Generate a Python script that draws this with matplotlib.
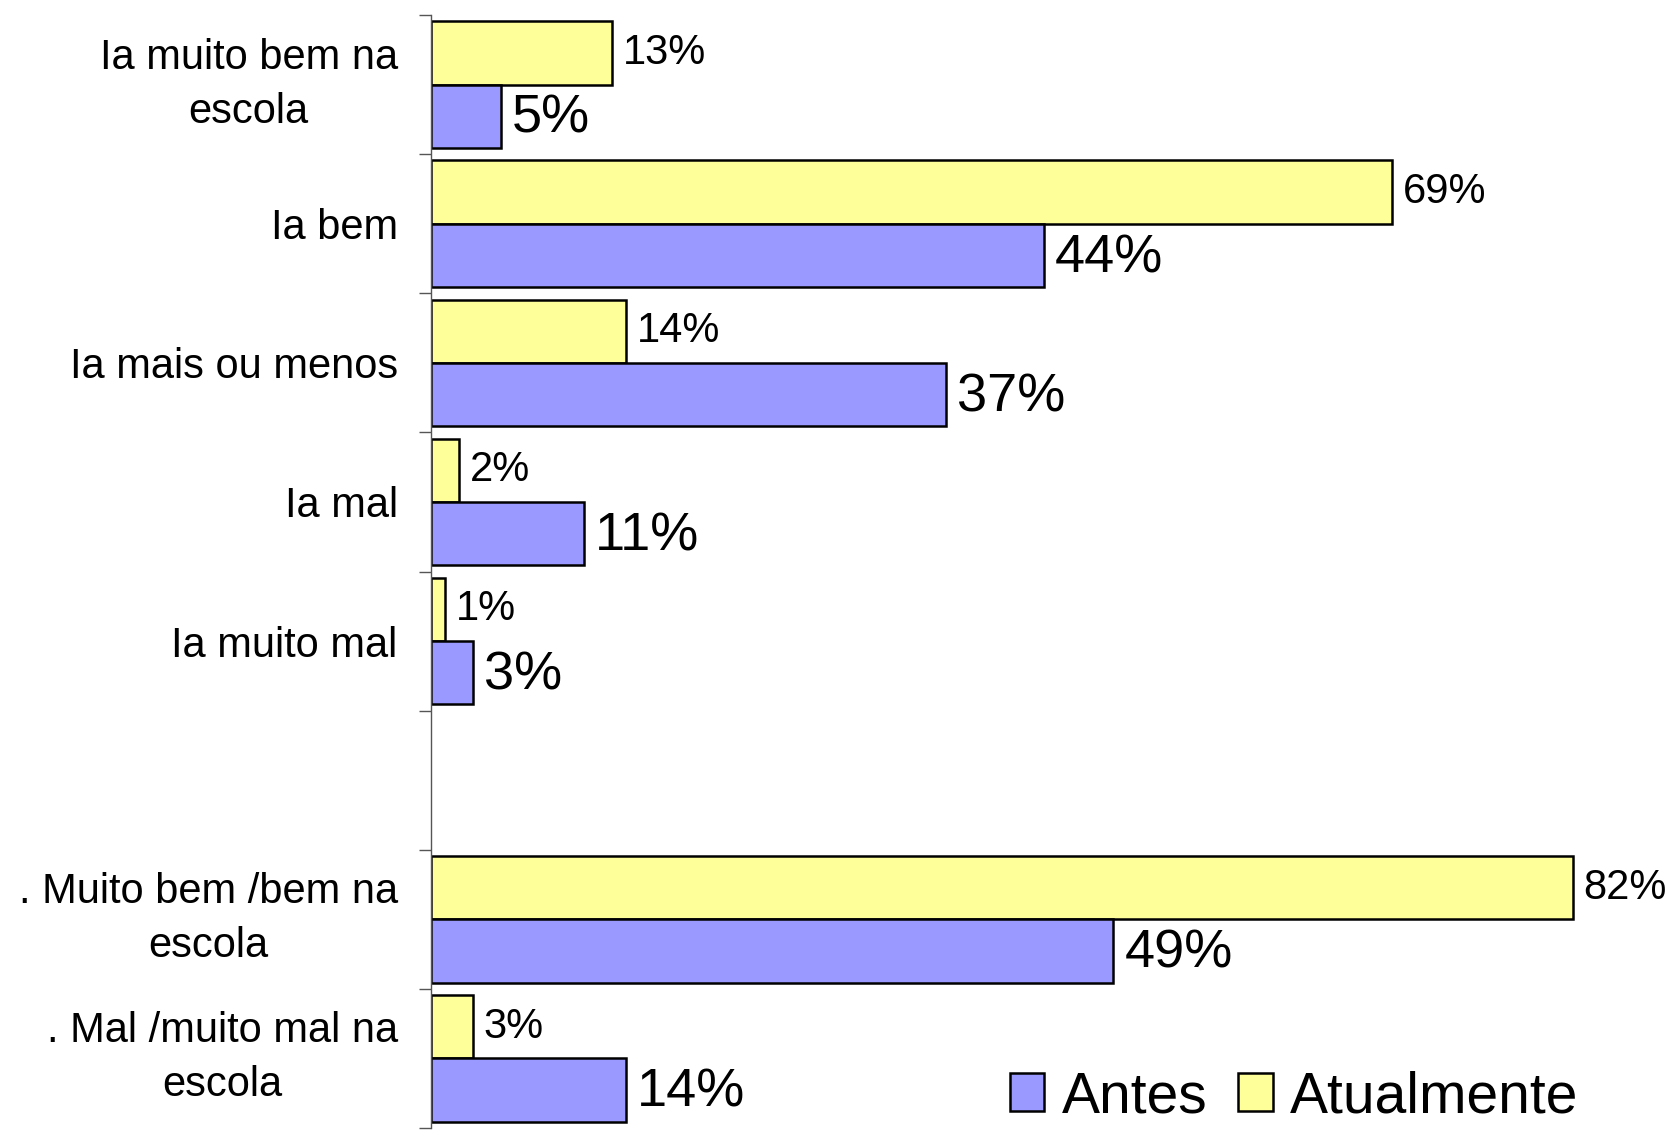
import matplotlib.pyplot as plt
import numpy as np
from matplotlib.patches import Patch

plt.rcParams['font.family'] = ['Liberation Sans', 'DejaVu Sans']

# categories (top to bottom), empty string = blank slot
categories = ["Ia muito bem na\nescola", "Ia bem", "Ia mais ou menos", "Ia mal",
              "Ia muito mal", "", ". Muito bem /bem na\nescola",
              ". Mal /muito mal na\nescola"]
antes = [5, 44, 37, 11, 3, None, 49, 14]
atualmente = [13, 69, 14, 2, 1, None, 82, 3]

blue = "#9999FF"
yellow = "#FFFF99"

fig = plt.figure(figsize=(16.77, 11.3), dpi=100)
ax = fig.add_axes([431 / 1677, 2 / 1130, 1 - 431 / 1677, 1113 / 1130])

n = len(categories)
ypos = np.arange(n)
h = 0.455

for i in range(n):
    if antes[i] is None:
        continue
    # yellow on top, blue below (y axis inverted)
    ax.barh(i - h / 2, atualmente[i], height=h, color=yellow,
            edgecolor="black", linewidth=1.8)
    ax.barh(i + h / 2, antes[i], height=h, color=blue,
            edgecolor="black", linewidth=1.8)
    ax.text(atualmente[i] + 0.8, i - h / 2, f"{atualmente[i]}%",
            va="center", ha="left", fontsize=30)
    ax.text(antes[i] + 0.8, i + h / 2 + 0.02, f"{antes[i]}%",
            va="center", ha="left", fontsize=39)

ax.set_xlim(0, 89.5)
ax.set_ylim(n - 0.5, -0.5)

# boundary ticks, labels at centers
ax.set_yticks(np.arange(n + 1) - 0.5)
ax.set_yticklabels([])
ax.tick_params(axis="y", which="major", length=9, width=1, color="#555555")
ax.set_yticks(ypos, minor=True)
ax.set_yticklabels(categories, minor=True, fontsize=30,
                   multialignment="center", linespacing=1.45)
for lbl in ax.get_yticklabels(minor=True):
    if "\n" in lbl.get_text():
        lbl.set_va("center")
ax.tick_params(axis="y", which="minor", length=0, pad=24)

ax.set_xticks([])
for s in ["top", "right", "bottom"]:
    ax.spines[s].set_visible(False)
ax.spines["left"].set_color("#555555")
ax.spines["left"].set_linewidth(1)

handles = [Patch(facecolor=blue, edgecolor="black", linewidth=1.8, label="Antes"),
           Patch(facecolor=yellow, edgecolor="black", linewidth=1.8, label="Atualmente")]
fig.legend(handles=handles, loc="lower right", bbox_to_anchor=(0.958, -0.02),
           ncol=2, frameon=False, fontsize=41, handlelength=0.6, handleheight=0.65,
           handletextpad=0.3, columnspacing=0.55, borderpad=0.0)

fig.savefig("out.png", dpi=100)
